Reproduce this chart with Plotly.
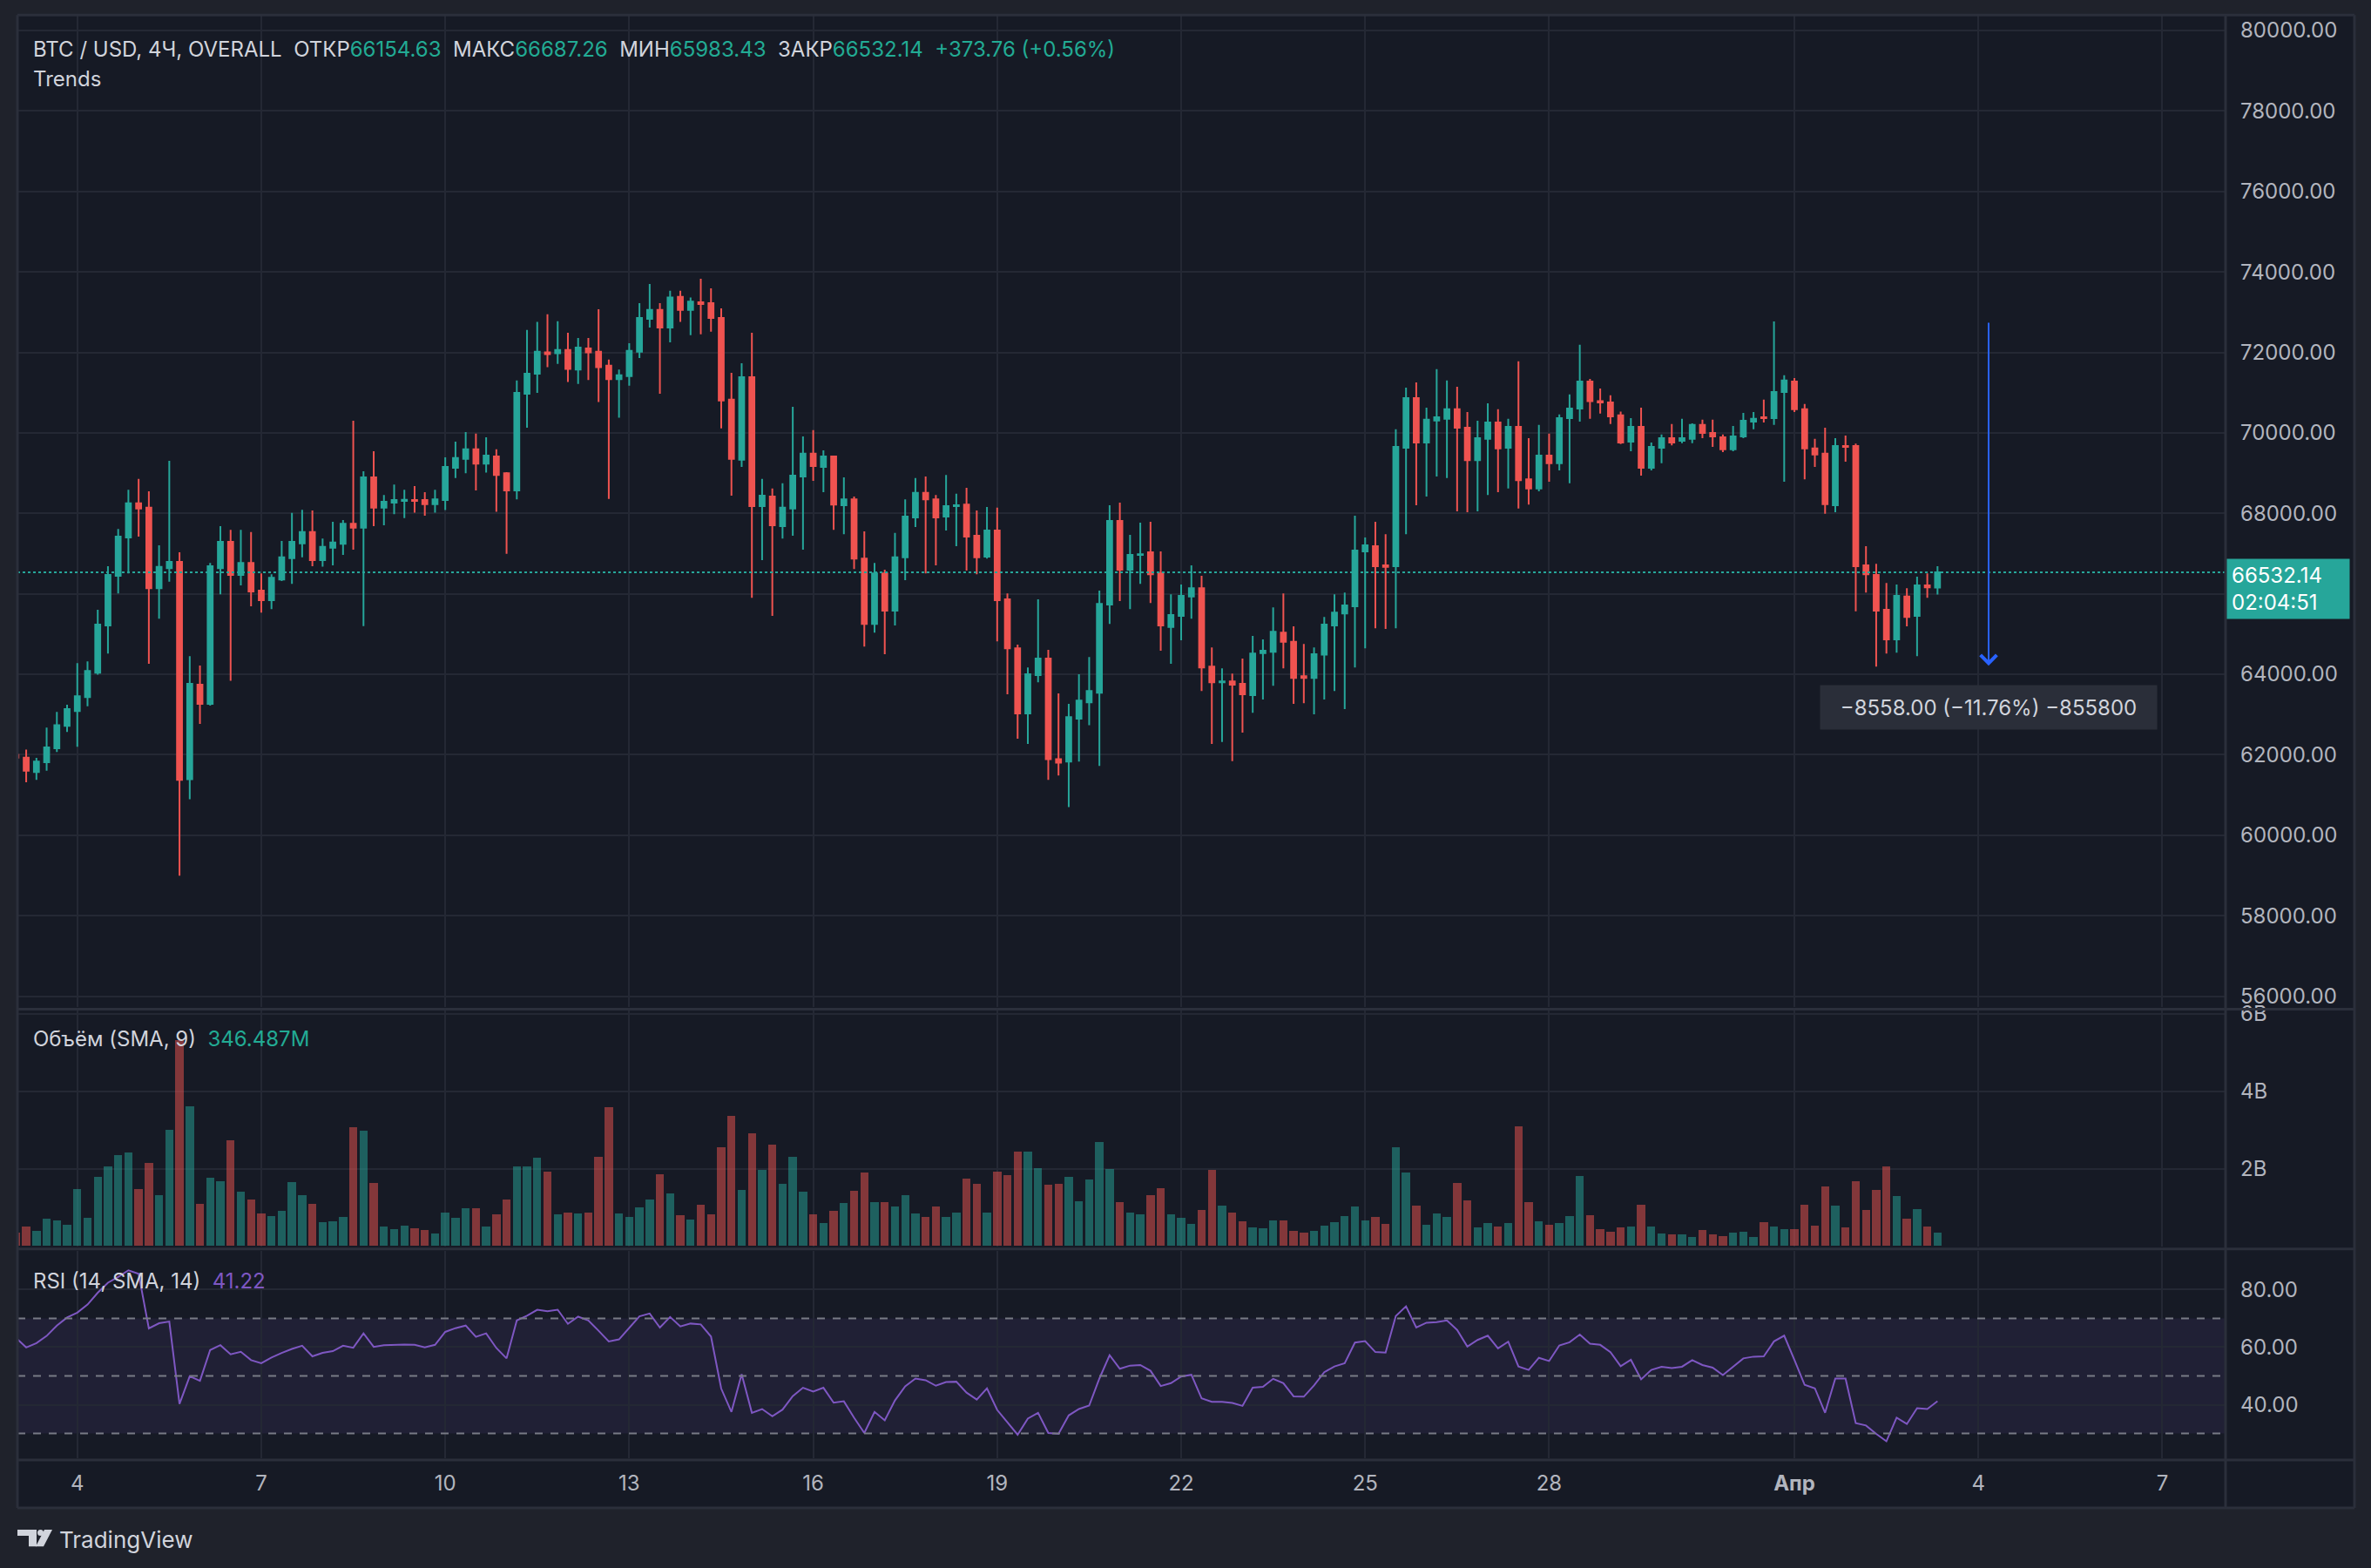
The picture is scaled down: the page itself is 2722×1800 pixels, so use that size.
import pandas as pd
import plotly.graph_objs as go
from plotly.subplots import make_subplots

W, H = 2722, 1800

# 4h candles, BTC / USD, 3 Mar - 3 Apr 2024
times = pd.date_range('2024-03-03 00:00', periods=189, freq='4h')

opens = [
    62000, 61930, 61573, 61812, 62160, 62717, 63085, 63433, 64040, 65214,
    66448, 67403, 68249, 68140, 66140, 66637, 66796, 61394, 63741, 63264,
    66637, 67294, 66468, 66767, 66080, 65841, 66358, 66886, 67254, 67533,
    66836, 67145, 67244, 67742, 67642, 68896, 68140, 68269, 68309, 68329,
    68329, 68229, 68329, 69135, 69354, 69592, 69234, 69413, 68996, 68568,
    70975, 71473, 72000, 71980, 72060, 71572, 72100, 72020, 71672, 71334,
    71413, 72020, 72836, 73055, 72617, 73383, 73055, 73244, 73224, 72856,
    70826, 69334, 71384, 68180, 68418, 67682, 68120, 68916, 69483, 69155,
    69413, 68200, 68349, 66876, 65254, 66508, 65582, 66906, 67901, 68508,
    68349, 67921, 68180, 68219, 67443, 66926, 67572, 65861, 64647, 63025,
    63980, 64389, 61891, 61831, 62896, 63304, 63543, 65732, 67811, 66597,
    66966, 67035, 66508, 65175, 65453, 65931, 66140, 64190, 63801, 63821,
    63761, 63483, 64528, 64558, 65035, 64806, 63950, 63911, 64488, 65214,
    65513, 65692, 67055, 67185, 66707, 66687, 69632, 70866, 69762, 70309,
    70349, 70587, 70130, 69324, 69851, 70259, 69632, 70150, 68846, 68617,
    69433, 69244, 70368, 70607, 71274, 70786, 70757, 70438, 69782, 70150,
    69135, 69632, 69871, 69802, 69851, 70199, 69999, 69891, 69592, 69911,
    70279, 70389, 70368, 71015, 71274, 70587, 69612, 69483, 68200, 69672,
    69672, 66707, 66468, 65602, 64866, 65931, 65453, 66209, 66154.63,
]
highs = [
    62100, 62130, 61921, 62677, 63065, 63244, 64279, 64319, 65603, 66687,
    67612, 68587, 68856, 68548, 67205, 69304, 67035, 64448, 64219, 66767,
    67682, 67592, 67592, 67533, 66508, 66488, 67314, 68010, 68090, 68070,
    67374, 67792, 67831, 70299, 69045, 69543, 68458, 68717, 68587, 68677,
    68528, 68587, 69393, 69781, 70020, 69980, 69891, 69592, 69025, 71304,
    72558, 72757, 72946, 72777, 72488, 72359, 72359, 73075, 71821, 71572,
    72229, 73224, 73702, 73224, 73533, 73533, 73364, 73831, 73592, 73095,
    71493, 71732, 72488, 68856, 68617, 68747, 70647, 69911, 70070, 69563,
    69433, 68896, 68418, 67552, 66767, 66597, 67513, 68349, 68876, 68916,
    68458, 68956, 68488, 68637, 68070, 68160, 68140, 66010, 64737, 64170,
    65861, 64607, 63523, 63264, 64000, 64428, 66080, 68200, 68269, 67463,
    67771, 67791, 67055, 65990, 66229, 66707, 66448, 64667, 64150, 64020,
    64389, 64956, 64866, 65662, 66010, 65194, 64756, 64667, 65424, 65990,
    66030, 67941, 67403, 67792, 67483, 70090, 71125, 71254, 70627, 71583,
    71304, 71144, 70518, 70299, 70737, 70587, 70349, 71781, 69871, 70199,
    69980, 70458, 70956, 72189, 71343, 71105, 70936, 70528, 70368, 70627,
    69762, 69960, 70219, 70349, 70239, 70329, 70329, 69960, 70170, 70498,
    70518, 70826, 72770, 71433, 71363, 70717, 69851, 70130, 69871, 69931,
    69731, 67185, 66747, 66269, 66229, 66140, 66428, 66508, 66687.26,
]
lows = [
    61880, 61314, 61374, 61602, 62070, 62568, 62200, 63205, 63990, 64518,
    66010, 66508, 67423, 64259, 65384, 66299, 58996, 60896, 62766, 63224,
    65990, 63841, 66209, 65692, 65533, 65622, 66319, 66249, 66906, 66687,
    66677, 66707, 66966, 67095, 65195, 67682, 67702, 67980, 67881, 68020,
    67941, 68020, 68080, 68876, 68996, 68568, 69015, 68040, 66995, 68349,
    70130, 70995, 71632, 71712, 71264, 71214, 71314, 70767, 68359, 70379,
    71175, 71861, 72617, 70975, 72249, 72757, 72428, 72448, 72518, 70110,
    68438, 69155, 65901, 66836, 65453, 67374, 67443, 67095, 68806, 68528,
    67592, 67483, 66617, 64687, 65035, 64498, 65214, 66339, 67662, 66508,
    66707, 67572, 67184, 66578, 66488, 66876, 64816, 63503, 62399, 62269,
    63801, 61374, 61483, 60697, 61831, 62737, 61722, 65254, 65821, 65622,
    66249, 65771, 64587, 64259, 64846, 65384, 63583, 62269, 62319, 61841,
    62548, 63045, 63374, 63712, 64150, 63264, 63284, 63006, 63374, 63583,
    63135, 64170, 64647, 65145, 65125, 65145, 67483, 68200, 68418, 68916,
    68876, 68050, 68030, 68050, 68458, 68528, 68617, 68120, 68219, 68548,
    68787, 69065, 68747, 70279, 70349, 70478, 70219, 69722, 69543, 68936,
    69065, 69244, 69692, 69742, 69742, 69871, 69652, 69523, 69543, 69871,
    70090, 70259, 70199, 68787, 70518, 68846, 69155, 67990, 68030, 69284,
    65563, 66030, 64190, 64518, 64538, 65194, 64448, 65900, 65983.43,
]
closes = [
    61930, 61602, 61832, 62180, 62737, 63135, 63453, 64080, 65234, 66468,
    67423, 68249, 68120, 66140, 66667, 66796, 61374, 63761, 63264, 66687,
    67294, 66468, 66767, 66060, 65841, 66398, 66906, 67294, 67533, 66836,
    67165, 67274, 67742, 67642, 68896, 68140, 68289, 68329, 68339, 68309,
    68229, 68349, 69155, 69374, 69592, 69234, 69433, 68956, 68568, 70995,
    71473, 72020, 71960, 72060, 71592, 72120, 72000, 71632, 71334, 71433,
    72040, 72856, 73055, 72617, 73364, 73055, 73264, 73204, 72856, 70806,
    69354, 71384, 68180, 68438, 67702, 68140, 68936, 69483, 69175, 69413,
    68219, 68349, 66876, 65254, 66508, 65582, 66906, 67921, 68508, 68349,
    67901, 68180, 68200, 67423, 66906, 67572, 65841, 64647, 63025, 64000,
    64389, 61891, 61802, 62936, 63344, 63583, 65752, 67811, 66597, 66966,
    66986, 66488, 65214, 65473, 65950, 66140, 64170, 63801, 63821, 63742,
    63503, 64518, 64588, 65055, 64806, 63911, 63911, 64498, 65234, 65533,
    65712, 67075, 67205, 66687, 66667, 69652, 70866, 69762, 70329, 70389,
    70587, 70130, 69324, 69871, 70259, 69612, 70150, 68826, 68617, 69433,
    69244, 70368, 70607, 71274, 70786, 70757, 70408, 69762, 70150, 69135,
    69652, 69871, 69762, 69871, 70199, 69999, 69911, 69592, 69911, 70299,
    70349, 70368, 71015, 71304, 70587, 69612, 69463, 68229, 69672, 69652,
    66687, 66488, 65582, 64866, 65950, 65424, 66209, 66158.38, 66532.14,
]

# volume in billions USD
volume_b = [
    0.34, 0.50, 0.38, 0.70, 0.65, 0.54, 1.46, 0.72, 1.78, 2.05,
    2.34, 2.41, 1.46, 2.14, 1.31, 2.99, 5.31, 3.60, 1.08, 1.76,
    1.67, 2.72, 1.40, 1.19, 0.83, 0.77, 0.90, 1.64, 1.31, 1.08,
    0.61, 0.63, 0.74, 3.06, 2.97, 1.62, 0.50, 0.43, 0.52, 0.45,
    0.41, 0.32, 0.86, 0.72, 0.97, 0.97, 0.50, 0.81, 1.19, 2.05,
    2.05, 2.27, 1.91, 0.81, 0.86, 0.83, 0.86, 2.30, 3.58, 0.83,
    0.74, 0.99, 1.19, 1.85, 1.35, 0.79, 0.68, 1.06, 0.81, 2.54,
    3.35, 1.44, 2.90, 1.96, 2.61, 1.60, 2.30, 1.40, 0.81, 0.59,
    0.90, 1.10, 1.42, 1.89, 1.13, 1.13, 1.01, 1.31, 0.83, 0.74,
    1.01, 0.74, 0.86, 1.73, 1.60, 0.86, 1.91, 1.82, 2.43, 2.43,
    2.00, 1.58, 1.60, 1.78, 1.15, 1.71, 2.68, 1.98, 1.13, 0.86,
    0.81, 1.31, 1.49, 0.81, 0.72, 0.56, 0.92, 1.96, 1.04, 0.86,
    0.63, 0.47, 0.45, 0.65, 0.65, 0.38, 0.34, 0.38, 0.52, 0.61,
    0.77, 1.01, 0.65, 0.74, 0.56, 2.54, 1.89, 1.04, 0.54, 0.83,
    0.74, 1.62, 1.17, 0.47, 0.59, 0.50, 0.59, 3.08, 1.13, 0.63,
    0.54, 0.59, 0.77, 1.80, 0.79, 0.43, 0.36, 0.47, 0.50, 1.06,
    0.50, 0.32, 0.29, 0.29, 0.23, 0.41, 0.29, 0.25, 0.34, 0.36,
    0.23, 0.61, 0.50, 0.43, 0.43, 1.06, 0.52, 1.53, 1.04, 0.47,
    1.67, 0.92, 1.44, 2.05, 1.28, 0.70, 0.95, 0.50, 0.346,
]

rsi = [
    63.2, 59.9, 61.4, 63.9, 67.5, 70.3, 72.0, 74.8, 78.9, 82.4,
    84.4, 86.7, 85.5, 66.5, 68.3, 68.9, 40.3, 49.9, 48.3, 59.0,
    60.7, 57.5, 58.4, 55.5, 54.4, 56.4, 58.0, 59.4, 60.5, 56.8,
    58.0, 58.6, 60.5, 59.8, 64.8, 60.1, 60.7, 60.9, 60.9, 60.8,
    59.9, 60.8, 65.3, 66.6, 67.5, 63.6, 64.8, 59.7, 56.1, 69.3,
    70.9, 73.0, 72.5, 73.0, 68.1, 70.6, 69.3, 65.7, 62.0, 62.7,
    66.8, 70.7, 71.7, 66.8, 70.5, 67.2, 68.2, 67.9, 63.7, 45.6,
    37.5, 50.6, 37.2, 38.5, 36.0, 38.3, 43.0, 45.9, 44.6, 45.9,
    40.7, 41.2, 35.5, 30.2, 37.5, 34.6, 41.5, 46.4, 49.1, 48.5,
    46.6, 47.9, 48.0, 44.2, 41.8, 45.7, 38.2, 33.9, 29.6, 35.2,
    37.2, 30.2, 29.9, 36.3, 38.5, 39.7, 49.1, 57.2, 52.5, 53.6,
    53.8, 51.8, 46.5, 47.5, 49.8, 50.4, 42.2, 41.0, 41.0, 40.6,
    39.6, 45.9, 46.2, 49.0, 47.5, 42.9, 42.8, 46.7, 51.3, 53.3,
    54.4, 61.6, 62.1, 58.3, 58.1, 70.8, 74.2, 66.8, 68.5, 68.7,
    69.3, 66.0, 60.2, 62.5, 64.0, 59.6, 61.9, 53.3, 52.1, 56.3,
    55.2, 60.6, 61.7, 64.4, 61.2, 60.8, 58.3, 53.4, 55.6, 48.8,
    52.1, 53.2, 52.7, 53.2, 55.5, 53.8, 52.9, 50.3, 53.1, 56.1,
    56.7, 56.8, 62.0, 64.0, 55.6, 46.9, 45.7, 37.2, 49.1, 49.1,
    33.6, 32.8, 29.9, 27.3, 35.5, 33.3, 38.8, 38.5, 41.22,
]

date_ticks = ['2024-03-04', '2024-03-07', '2024-03-10', '2024-03-13', '2024-03-16',
              '2024-03-19', '2024-03-22', '2024-03-25', '2024-03-28', '2024-04-01',
              '2024-04-04', '2024-04-07']
date_labels = ['4', '7', '10', '13', '16', '19', '22', '25', '28', '<b>Апр</b>', '4', '7']
price_ticks = list(range(56000, 80001, 2000))
vol_ticks = [2, 4, 6]
vol_labels = ['2B', '4B', '6B']
rsi_ticks = [40, 60, 80]
rsi_labels = ['40.00', '60.00', '80.00']

last_price = closes[-1]
measure_x = '2024-04-04 04:00'
measure_top = 72772
measure_bottom = 64214

UP = '#26a69a'
DOWN = '#ef5350'
BG = '#161a25'
FRAME = '#1f222b'
GRID = '#242834'
SEP = '#2b2f3b'
TXT = '#d1d4dc'
AXT = '#b2b5be'
TEAL_TXT = '#22ab94'
PURPLE = '#7e57c2'
FONT = 'Inter'


def px(x):
    return x / W


def py(y):
    # the captured page lands ~11 px lower and ~0.8% shorter than drawn, so undo that here
    return 1 - (y - 10.7) / 0.9923 / H


X_DOM = [px(20), px(2555)]
X_RANGE = ['2024-03-03 00:34', '2024-04-08 00:43']

fig = make_subplots(rows=3, cols=1, shared_xaxes=True)

fig.add_trace(go.Candlestick(
    x=times, open=opens, high=highs, low=lows, close=closes,
    increasing=dict(line=dict(color=UP, width=2), fillcolor=UP),
    decreasing=dict(line=dict(color=DOWN, width=2), fillcolor=DOWN),
    whiskerwidth=0, showlegend=False, hoverinfo='skip'), row=1, col=1)

vol_colors = ['rgba(38,166,154,0.5)' if c >= o else 'rgba(239,83,80,0.5)'
              for o, c in zip(opens, closes)]
fig.add_trace(go.Bar(x=times, y=volume_b, marker_color=vol_colors, marker_line_width=0,
                     width=4 * 3600 * 1000 * 0.8, showlegend=False, hoverinfo='skip'),
              row=2, col=1)

fig.add_trace(go.Scatter(x=times, y=rsi, mode='lines', line=dict(color=PURPLE, width=2),
                         showlegend=False, hoverinfo='skip'), row=3, col=1)

axis_font = dict(family=FONT, size=24, color=AXT)
for r in (1, 2, 3):
    fig.update_xaxes(row=r, col=1, domain=X_DOM, range=X_RANGE, tickvals=date_ticks,
                     ticktext=date_labels, showgrid=True, gridcolor=GRID, gridwidth=2,
                     zeroline=False, showline=False, ticks='', tickfont=axis_font,
                     showticklabels=(r == 3), ticklabelstandoff=12,
                     rangeslider_visible=False)

# the 66000 label sits under the last price tag
price_labels = ['' if abs(v - last_price) < 1000 else f'{v:.2f}' for v in price_ticks]
fig.update_yaxes(row=1, col=1, side='right', domain=[py(1155), py(17)],
                 range=[55720, 80384], tickvals=price_ticks, ticktext=price_labels)
fig.update_yaxes(row=2, col=1, side='right', domain=[py(1429), py(1159)],
                 range=[0, 6.07], tickvals=vol_ticks, ticktext=vol_labels)
fig.update_yaxes(row=3, col=1, side='right', domain=[py(1672), py(1434)],
                 range=[21.4, 93.5], tickvals=rsi_ticks, ticktext=rsi_labels)
fig.update_yaxes(showgrid=True, gridcolor=GRID, gridwidth=2, zeroline=False,
                 showline=False, ticks='', tickfont=axis_font, ticklabelstandoff=16)

shapes = [
    dict(type='rect', xref='paper', yref='paper', x0=px(20), x1=px(2703),
         y0=py(1729), y1=py(17), fillcolor=BG, line_width=0, layer='below'),
    # RSI band and levels
    dict(type='rect', xref='paper', yref='y3', x0=X_DOM[0], x1=X_DOM[1], y0=30, y1=70,
         fillcolor='rgba(126,87,194,0.1)', line_width=0, layer='below'),
]
for lvl in (70, 50, 30):
    shapes.append(dict(type='line', xref='paper', yref='y3', x0=X_DOM[0], x1=X_DOM[1],
                       y0=lvl, y1=lvl, line=dict(color='#787b86', width=2, dash='dash')))
# last price line
shapes.append(dict(type='line', xref='paper', yref='y', x0=X_DOM[0], x1=X_DOM[1],
                   y0=last_price, y1=last_price, line=dict(color=UP, width=2, dash='dot')))
# pane separators and borders
for yy in (17, 1157, 1432, 1674, 1729):
    shapes.append(dict(type='line', xref='paper', yref='paper', x0=px(20), x1=px(2703),
                       y0=py(yy), y1=py(yy), line=dict(color=SEP, width=3)))
for xx in (20, 2555, 2703):
    shapes.append(dict(type='line', xref='paper', yref='paper', x0=px(xx), x1=px(xx),
                       y0=py(1729), y1=py(17), line=dict(color=SEP, width=3)))
# TradingView logo mark
shapes.append(dict(type='path', xref='paper', yref='paper', fillcolor='#d1d4dc', line_width=0,
                   path=f'M {px(20)},{py(1754)} L {px(42)},{py(1754)} L {px(42)},{py(1773)} '
                        f'L {px(33)},{py(1773)} L {px(33)},{py(1761)} L {px(20)},{py(1761)} Z'))
shapes.append(dict(type='circle', xref='paper', yref='paper', fillcolor='#d1d4dc', line_width=0,
                   x0=px(43), x1=px(50), y0=py(1761), y1=py(1754)))
shapes.append(dict(type='path', xref='paper', yref='paper', fillcolor='#d1d4dc', line_width=0,
                   path=f'M {px(51)},{py(1754)} L {px(60)},{py(1754)} L {px(50)},{py(1773)} '
                        f'L {px(41)},{py(1773)} Z'))

sp = '\u00a0\u00a0'


def val(t, color=TEAL_TXT):
    return f"<span style='color:{color}'>{t}</span>"


header = ('BTC / USD, 4Ч, OVERALL' + sp + 'ОТКР' + val('66154.63') + sp + 'МАКС' + val('66687.26')
          + sp + 'МИН' + val('65983.43') + sp + 'ЗАКР' + val('66532.14') + sp
          + val('+373.76 (+0.56%)'))

lab_font = dict(family=FONT, size=24, color=TXT)
annotations = [
    dict(xref='paper', yref='paper', x=px(36), y=py(56), text=header, showarrow=False,
         xanchor='left', yanchor='middle', font=lab_font),
    dict(xref='paper', yref='paper', x=px(36), y=py(90), text='Trends', showarrow=False,
         xanchor='left', yanchor='middle', font=lab_font),
    dict(xref='paper', yref='paper', x=px(36), y=py(1191),
         text='Объём (SMA, 9)' + sp + val('346.487M'), showarrow=False,
         xanchor='left', yanchor='middle', font=lab_font),
    dict(xref='paper', yref='paper', x=px(36), y=py(1469),
         text='RSI (14, SMA, 14)' + sp + val('41.22', PURPLE), showarrow=False,
         xanchor='left', yanchor='middle', font=lab_font),
    # last price tag
    dict(xref='paper', yref='y', x=px(2556), y=last_price, yshift=16,
         text=f'{last_price:.2f}<br>02:04:51', showarrow=False, xanchor='left', yanchor='top',
         align='left', bgcolor=UP, width=130, height=58, borderpad=5,
         font=dict(family=FONT, size=24, color='#ffffff')),
    # measure arrow
    dict(xref='x', yref='y', x=measure_x, y=measure_bottom, axref='x', ayref='y',
         ax=measure_x, ay=measure_top, text='', showarrow=True, arrowhead=4, arrowsize=1.8,
         arrowwidth=2, arrowcolor='#2962ff', standoff=0, startstandoff=0),
    dict(xref='x', yref='y', x=measure_x, y=63175,
         text=f'\u2212{measure_top - measure_bottom:.2f} (\u221211.76%) \u2212855800',
         showarrow=False, bgcolor='#2a2e39', width=380, height=44, borderpad=3,
         font=dict(family=FONT, size=24, color=TXT)),
    # logo text
    dict(xref='paper', yref='paper', x=px(66), y=py(1765), text='TradingView', showarrow=False,
         xanchor='left', yanchor='middle', font=dict(family=FONT, size=26, color='#d1d4dc')),
]

fig.update_layout(
    width=W, height=H, margin=dict(l=0, r=0, t=0, b=0),
    paper_bgcolor=FRAME, plot_bgcolor=BG, showlegend=False, hovermode=False,
    font=dict(family=FONT, color=AXT), shapes=shapes, annotations=annotations,
    bargap=0,
)

page_fix = """
document.documentElement.style.margin='0';
document.documentElement.style.overflow='hidden';
document.body.style.margin='0';
document.body.style.overflow='hidden';
document.body.style.background='#1f222b';
var gd = document.querySelector('.plotly-graph-div');
gd.style.position='absolute'; gd.style.left='0px'; gd.style.top='0px';
"""
fig.write_html("out.html", config={'displayModeBar': False}, post_script=page_fix)
